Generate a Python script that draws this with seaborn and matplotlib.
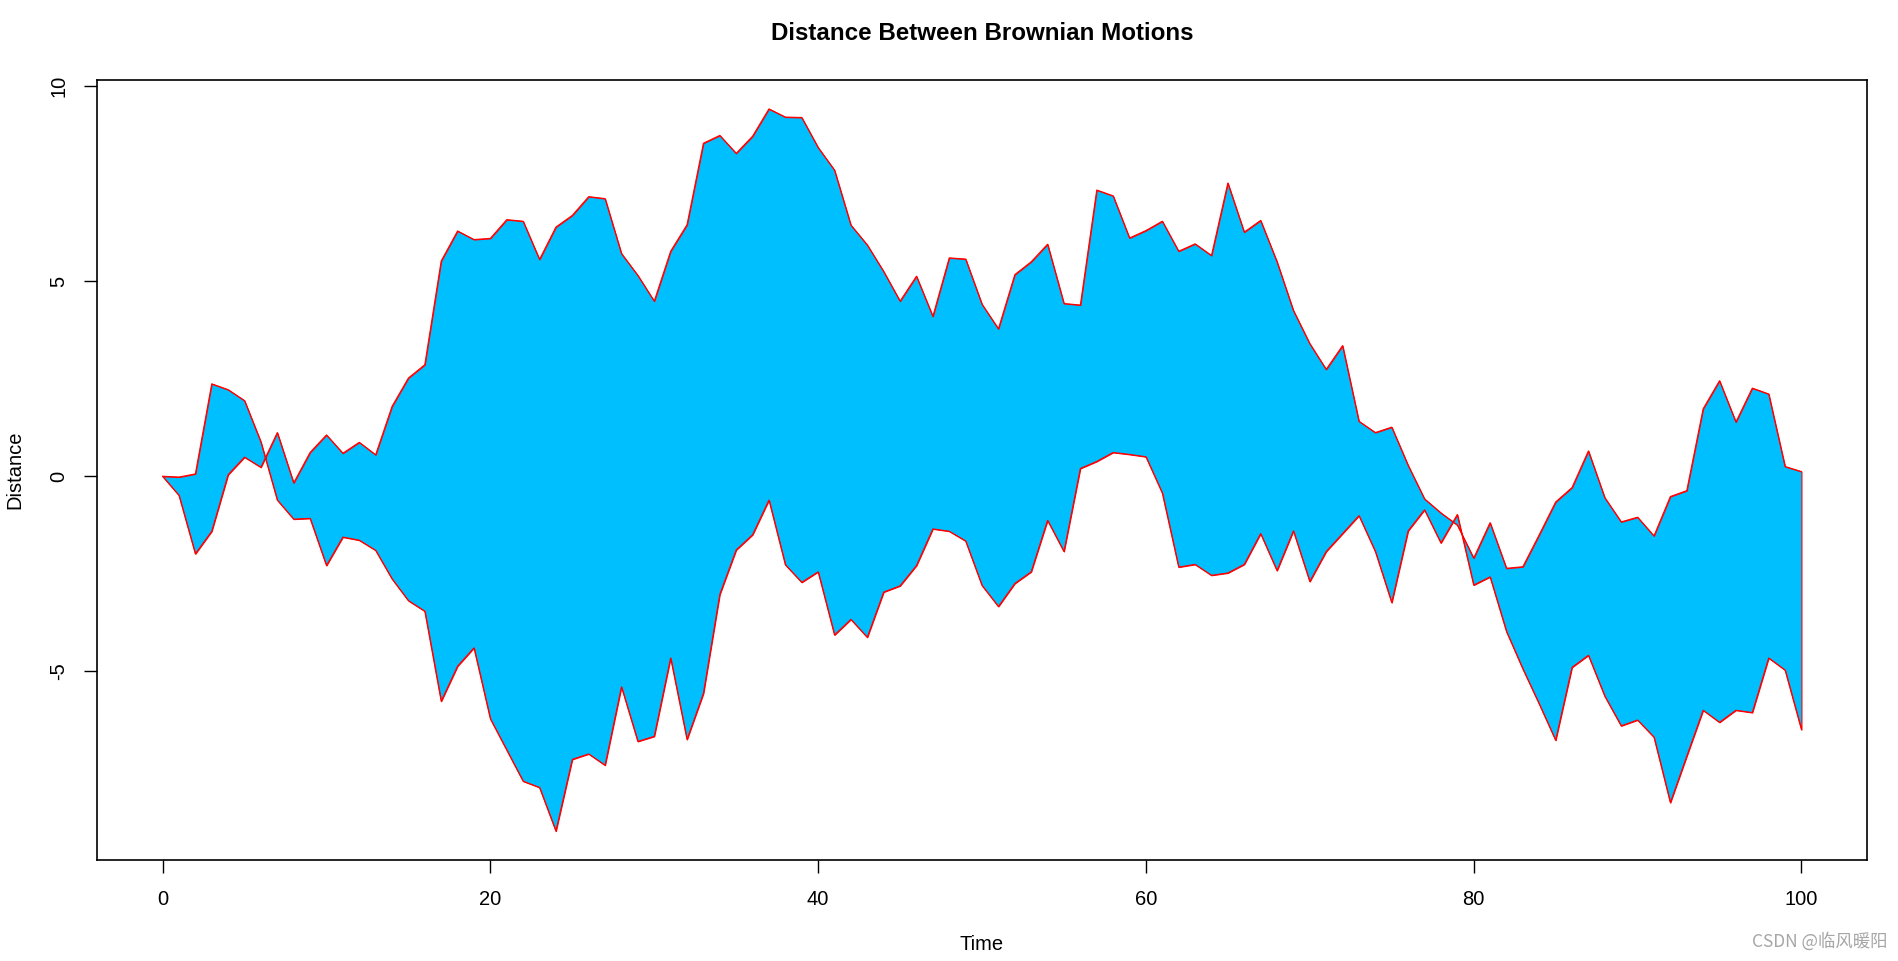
import numpy as np
import pandas as pd
import matplotlib
matplotlib.use("Agg")
import matplotlib.pyplot as plt
import seaborn as sns

# ---- data ----
time = list(range(0, 101))
motion_a = [0.00, -0.02, 0.06, 2.37, 2.22, 1.94, 0.88, -0.61, -1.10, -1.08,
            -2.29, -1.56, -1.64, -1.90, -2.63, -3.19, -3.46, -5.77, -4.87, -4.40,
            -6.22, -7.02, -7.82, -7.98, -9.10, -7.26, -7.12, -7.41, -5.40, -6.80,
            -6.67, -4.66, -6.75, -5.57, -3.03, -1.89, -1.50, -0.61, -2.27, -2.72,
            -2.45, -4.07, -3.67, -4.13, -2.97, -2.81, -2.29, -1.35, -1.41, -1.66,
            -2.80, -3.34, -2.75, -2.45, -1.13, -1.93, 0.20, 0.38, 0.61, 0.56,
            0.50, -0.43, -2.33, -2.26, -2.54, -2.48, -2.26, -1.47, -2.42, -1.40,
            -2.70, -1.93, -1.47, -1.01, -1.93, -3.24, -1.40, -0.86, -1.71, -0.98,
            -2.79, -2.58, -3.98, -4.94, -5.84, -6.77, -4.90, -4.59, -5.64, -6.40,
            -6.25, -6.69, -8.37, -7.18, -6.00, -6.31, -6.00, -6.06, -4.66, -4.97,
            -6.50]
motion_b = [0.00, -0.49, -1.99, -1.41, 0.04, 0.49, 0.23, 1.12, -0.17, 0.61,
            1.06, 0.59, 0.87, 0.55, 1.79, 2.52, 2.86, 5.52, 6.29, 6.07,
            6.10, 6.58, 6.54, 5.56, 6.39, 6.69, 7.17, 7.12, 5.71, 5.15,
            4.49, 5.77, 6.45, 8.54, 8.74, 8.28, 8.72, 9.42, 9.21, 9.20,
            8.43, 7.85, 6.44, 5.93, 5.25, 4.49, 5.13, 4.10, 5.60, 5.57,
            4.41, 3.78, 5.17, 5.50, 5.95, 4.43, 4.39, 7.34, 7.19, 6.11,
            6.30, 6.54, 5.77, 5.96, 5.66, 7.52, 6.26, 6.56, 5.50, 4.25,
            3.40, 2.74, 3.35, 1.41, 1.12, 1.26, 0.28, -0.58, -0.94, -1.25,
            -2.10, -1.19, -2.36, -2.32, -1.50, -0.66, -0.29, 0.65, -0.55, -1.17,
            -1.05, -1.53, -0.52, -0.37, 1.73, 2.45, 1.39, 2.26, 2.11, 0.25,
            0.12]
x_ticks = [0, 20, 40, 60, 80, 100]
y_ticks = [-5, 0, 5, 10]

title_text = "Distance Between Brownian Motions"
x_label = "Time"
y_label = "Distance"
watermark = "CSDN @临风暖阳"

# ---- style ----
sns.set_style("white")
plt.rcParams["font.family"] = ["Liberation Sans", "DejaVu Sans"]
plt.rcParams["text.color"] = "black"
plt.rcParams["axes.labelcolor"] = "black"
plt.rcParams["xtick.color"] = "black"
plt.rcParams["ytick.color"] = "black"

fig = plt.figure(figsize=(18.99, 9.61), dpi=100)
ax = fig.add_axes([97 / 1899, 1 - 860 / 961, (1867 - 97) / 1899, (860 - 80) / 961])

df = pd.DataFrame({
    "Time": time * 2,
    "Distance": motion_a + motion_b,
    "series": ["a"] * len(time) + ["b"] * len(time),
})

ax.fill_between(time, motion_a, motion_b, facecolor="#00BFFF",
                edgecolor="red", linewidth=0.8, zorder=2)
sns.lineplot(data=df, x="Time", y="Distance", hue="series",
             palette=["red", "red"], estimator=None, linewidth=0.8,
             legend=False, ax=ax, zorder=3)

ax.margins(x=0.04, y=0.04)
ax.set_xticks(x_ticks)
ax.set_yticks(y_ticks)
ax.set_xticklabels([str(v) for v in x_ticks])
ax.set_yticklabels([str(v) for v in y_ticks])

for s in ax.spines.values():
    s.set_visible(True)
    s.set_color("black")
    s.set_linewidth(1.2)

ax.tick_params(axis="both", which="major", direction="out", length=9.5,
               width=1.0, color="black", labelcolor="black", labelsize=14.5,
               bottom=True, left=True)
ax.tick_params(axis="x", pad=12)
ax.tick_params(axis="y", pad=11)
for lab in ax.get_yticklabels():
    lab.set_rotation(90)
    lab.set_va("center")

ax.set_xlabel(x_label, fontsize=14.5, color="black")
ax.set_ylabel(y_label, fontsize=14.5, color="black")
ax.xaxis.set_label_coords(0.5, -(945 - 860) / 780)
ax.xaxis.label.set_va("center")
ax.yaxis.set_label_coords(-(97 - 15) / 1770, 0.5)
ax.yaxis.label.set_va("center")

fig.text((97 + 1867) / 2 / 1899, 1 - 33 / 961, title_text, ha="center",
         va="center", fontsize=17.4, fontweight="bold", color="black")

fig.text(1888 / 1899, 1 - 941 / 961, watermark, ha="right", va="center",
         fontsize=12.5, color="#a6a6a6",
         family=["Noto Sans CJK SC", "DejaVu Sans"])

fig.savefig("out.png", dpi=100, facecolor="white")
